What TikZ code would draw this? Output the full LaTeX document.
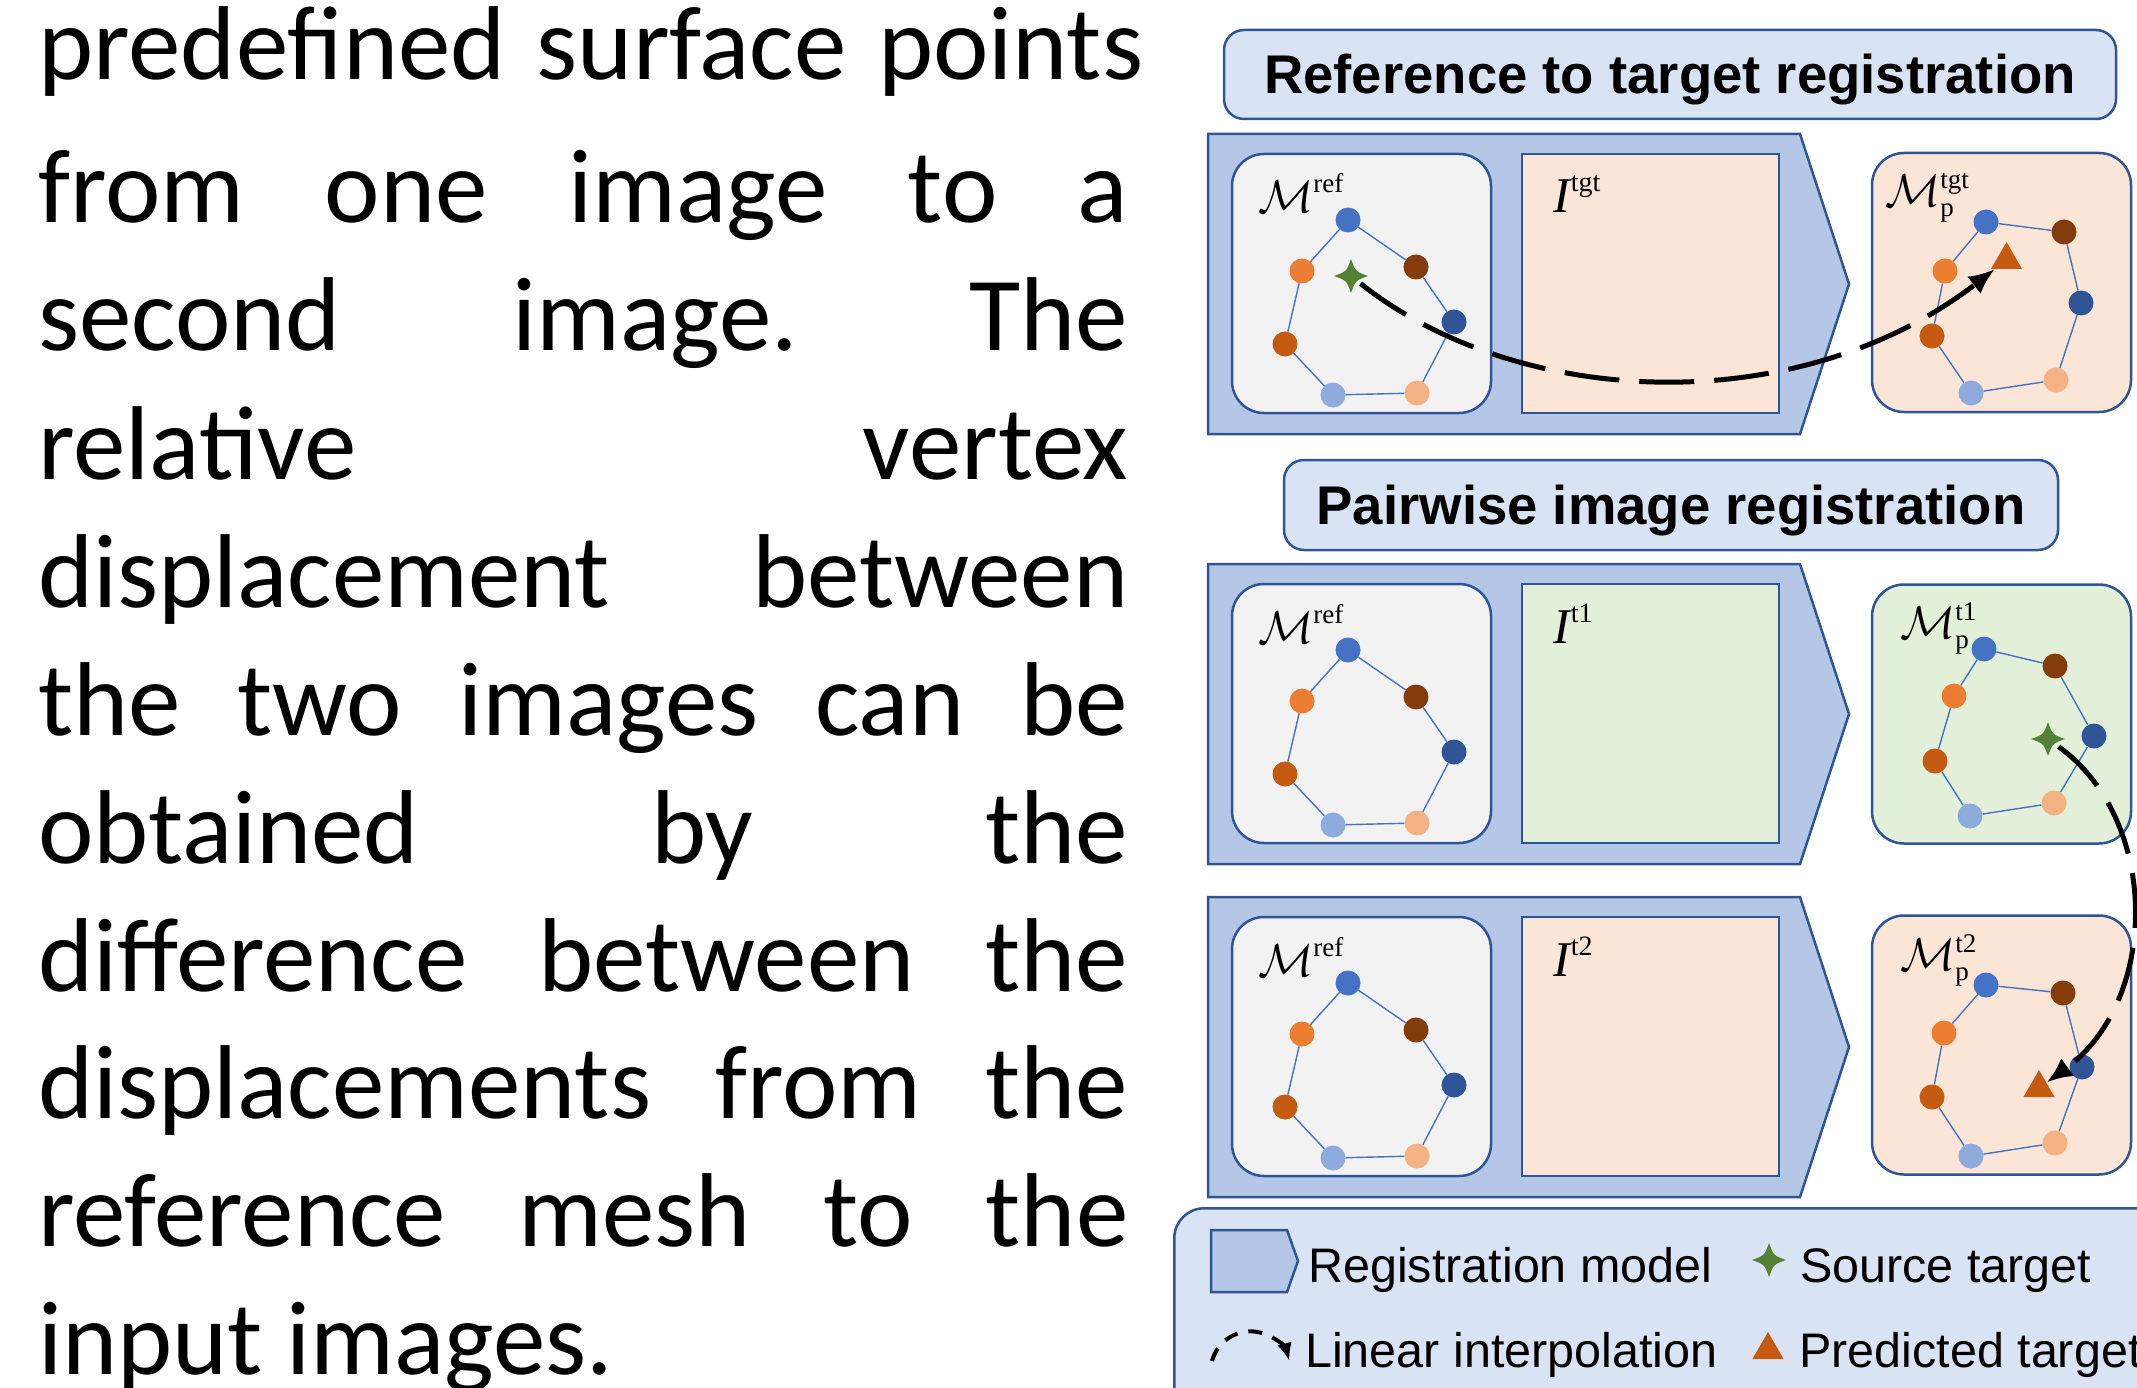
\documentclass[tikz,border=0pt]{standalone}
\usepackage{fix-cm}
\usepackage{fontspec}
\usetikzlibrary{shapes.geometric,arrows.meta}
\newfontfamily\bodyfont{Carlito}
\newfontfamily\arialf{Liberation Sans}
\newfontfamily\timesf{Liberation Serif}
\definecolor{dblue}{HTML}{2F5597}
\definecolor{pentfill}{HTML}{B4C7E7}
\definecolor{titlefill}{HTML}{DAE3F3}
\definecolor{refgray}{HTML}{F2F2F2}
\definecolor{peach}{HTML}{FBE5D6}
\definecolor{mint}{HTML}{E2F0D9}
\definecolor{vblue}{HTML}{4472C4}
\definecolor{vorange}{HTML}{ED7D31}
\definecolor{vbrown}{HTML}{843C0C}
\definecolor{vdblue}{HTML}{2F5597}
\definecolor{vdorange}{HTML}{C55A11}
\definecolor{vlblue}{HTML}{8FAADC}
\definecolor{vlorange}{HTML}{F4B183}
\definecolor{sgreen}{HTML}{548235}
\newcommand\Mlab[1]{{\fontsize{46}{46}\selectfont$\mathcal{M}$}\raisebox{20pt}{\fontsize{27}{27}\selectfont\timesf #1}}
\newcommand\Mplab[1]{{\fontsize{46}{46}\selectfont$\mathcal{M}$}\rlap{\raisebox{-10pt}{\fontsize{27}{27}\selectfont\timesf p}}\raisebox{18pt}{\fontsize{27}{27}\selectfont\timesf #1}}
\newcommand\Ilab[1]{{\fontsize{50}{50}\selectfont\timesf\itshape I}\kern1pt\raisebox{21pt}{\fontsize{28}{28}\selectfont\timesf #1}}
% mesh: prefix, then blue, orange, dark orange, light blue, light orange, dark blue, brown
\newcommand\drawmesh[8]{%
  \node[vtx, fill=vblue] (#1-a) at #2 {};
  \node[vtx, fill=vorange] (#1-b) at #3 {};
  \node[vtx, fill=vdorange] (#1-c) at #4 {};
  \node[vtx, fill=vlblue] (#1-d) at #5 {};
  \node[vtx, fill=vlorange] (#1-e) at #6 {};
  \node[vtx, fill=vdblue] (#1-f) at #7 {};
  \node[vtx, fill=vbrown] (#1-g) at #8 {};
  \draw[meshedge] (#1-a) -- (#1-b) -- (#1-c) -- (#1-d) -- (#1-e) -- (#1-f) -- (#1-g) -- (#1-a);
}
\newcommand\regrow[4]{%
  \begin{scope}[shift={(0,#2)}]
    \draw[pent] (1208,134) -- (1800,134) -- (1849,284) -- (1800,434) -- (1208,434) -- cycle;
    \node[refbox] (#1-ref) at (1361.5,283.5) {};
    \node[imgbox, fill=#3] (#1-img) at (1650.5,283.5) {};
    \node[lbl] (#1-mref) at (1258,213) {\Mlab{ref}};
    \node[lbl] (#1-ilab) at (1553,213) {\Ilab{#4}};
    \drawmesh{#1m}{(1348,220)}{(1302,271)}{(1285,344)}{(1333,395)}{(1417,393)}{(1454,322)}{(1416,267)}
  \end{scope}}
\begin{document}
\begin{tikzpicture}[x=1pt,y=-1pt,
  pent/.style={draw=dblue, fill=pentfill, line width=2.5pt, line join=miter},
  refbox/.style={draw=dblue, fill=refgray, line width=2.5pt, rounded corners=32pt, minimum width=259pt, minimum height=259pt, inner sep=0pt},
  imgbox/.style={draw=dblue, line width=2.5pt, minimum width=257pt, minimum height=259pt, inner sep=0pt},
  outbox/.style={draw=dblue, line width=2.5pt, rounded corners=32pt, minimum width=259pt, minimum height=259pt, inner sep=0pt},
  titlebox/.style={draw=dblue, fill=titlefill, line width=2.5pt, rounded corners=20pt, inner sep=0pt, text height=39pt, text depth=0pt, font=\arialf\bfseries\fontsize{54.5}{60}\selectfont},
  legbox/.style={draw=dblue, fill=titlefill, line width=2.5pt, rounded corners=30pt, inner sep=0pt},
  lbl/.style={inner sep=0pt, anchor=base west},
  body/.style={inner sep=0pt, anchor=base west, font=\bodyfont\fontsize{105}{105}\selectfont},
  legtext/.style={inner sep=0pt, anchor=base west, font=\arialf\fontsize{48.5}{50}\selectfont},
  vtx/.style={circle, inner sep=0pt, minimum size=25pt},
  meshedge/.style={draw=vblue, line width=1.4pt},
  srcstar/.style={circle, inner sep=0pt, minimum size=34pt,
    path picture={\fill[sgreen, shift={(path picture bounding box.center)}]
      (0,-17) .. controls (4.5,-4.5) .. (17,0) .. controls (4.5,4.5) .. (0,17)
      .. controls (-4.5,4.5) .. (-17,0) .. controls (-4.5,-4.5) .. (0,-17) -- cycle;}},
  predtri/.style={regular polygon, regular polygon sides=3, fill=vdorange, inner sep=0pt, minimum size=36pt},
  interp/.style={line width=5pt, dash pattern=on 55pt off 20pt, -{Latex[length=26pt,width=22pt]}},
  legarrow/.style={line width=4pt, dash pattern=on 14pt off 11pt, -{Latex[length=18pt,width=15pt]}}
]
\useasboundingbox (0,0) rectangle (2137,1388);
% body text
\node[body] (l1) at (38,80) {\hbox to 1105pt{predefined\hfill surface\hfill points}};
\node[body] (l2) at (38,223) {\hbox to 1090pt{from\hfill one\hfill image\hfill to\hfill a}};
\node[body] (l3) at (38,351) {\hbox to 1090pt{second\hfill image.\hfill The}};
\node[body] (l4) at (38,479) {\hbox to 1090pt{relative\hfill vertex}};
\node[body] (l5) at (38,607) {\hbox to 1090pt{displacement\hfill between}};
\node[body] (l6) at (38,735) {\hbox to 1090pt{the\hfill two\hfill images\hfill can\hfill be}};
\node[body] (l7) at (38,863) {\hbox to 1090pt{obtained\hfill by\hfill the}};
\node[body] (l8) at (38,991) {\hbox to 1090pt{difference\hfill between\hfill the}};
\node[body] (l9) at (38,1118) {\hbox to 1090pt{displacements\hfill from\hfill the}};
\node[body] (l10) at (38,1246) {\hbox to 1090pt{reference\hfill mesh\hfill to\hfill the}};
\node[body] (l11) at (38,1374) {input images.};
% titles
\node[titlebox, minimum width=892pt, minimum height=89pt] (title1) at (1670,74.5) {Reference to target registration};
\node[titlebox, minimum width=774pt, minimum height=90pt] (title2) at (1671,505) {Pairwise image registration};
% rows
\regrow{r1}{0}{peach}{tgt}
\regrow{r2}{430}{mint}{t1}
\regrow{r3}{763}{peach}{t2}
% outputs
\node[outbox, fill=peach] (o1) at (2001.5,282.5) {};
\node[outbox, fill=mint] (o2) at (2001.5,714) {};
\node[outbox, fill=peach] (o3) at (2001.5,1045) {};
\node[lbl] (o1-lab) at (1885,207) {\Mplab{tgt}};
\node[lbl] (o2-lab) at (1900,638) {\Mplab{t1}};
\node[lbl] (o3-lab) at (1900,970) {\Mplab{t2}};
\drawmesh{o1m}{(1986,222)}{(1945,271)}{(1932,336)}{(1971,393)}{(2056,380)}{(2081,303)}{(2064,232)}
\drawmesh{o2m}{(1984,649)}{(1954,696)}{(1935,761)}{(1970,816)}{(2054,803)}{(2094,736)}{(2055,666)}
\drawmesh{o3m}{(1986,985)}{(1944,1033)}{(1932,1097)}{(1971,1156)}{(2055,1143)}{(2082,1067)}{(2063,993)}
% targets
\node[srcstar] (s1) at (1351,276) {};
\node[srcstar] (s2) at (2048,739) {};
\node[predtri] (p1) at (2006.5,260) {};
\node[predtri] (p3) at (2039,1088) {};
\draw[interp, shorten <=-5pt] (s1) .. controls (1520,410) and (1800,420) .. (p1);
\draw[interp, shorten <=-4pt] (s2) .. controls (2160,820) and (2160,1000) .. (p3);
% legend
\node[legbox, minimum width=1000pt, minimum height=260pt, anchor=north west] (leg) at (1173,1207) {};
\draw[pent] (1211,1230) -- (1287,1230) -- (1298,1261) -- (1287,1292) -- (1211,1292) -- cycle;
\node[legtext] (lt1) at (1308,1282) {Registration model};
\coordinate (la) at (1212,1361);
\draw[legarrow] (la) arc[start angle=195, end angle=345, radius=40];
\node[legtext] (lt2) at (1305,1367) {Linear interpolation};
\node[srcstar] (ls) at (1769,1260) {};
\node[legtext] (lt3) at (1800,1282) {Source target};
\node[predtri] (lp) at (1768,1350) {};
\node[legtext] (lt4) at (1799,1367) {Predicted target};
\end{tikzpicture}
\end{document}
